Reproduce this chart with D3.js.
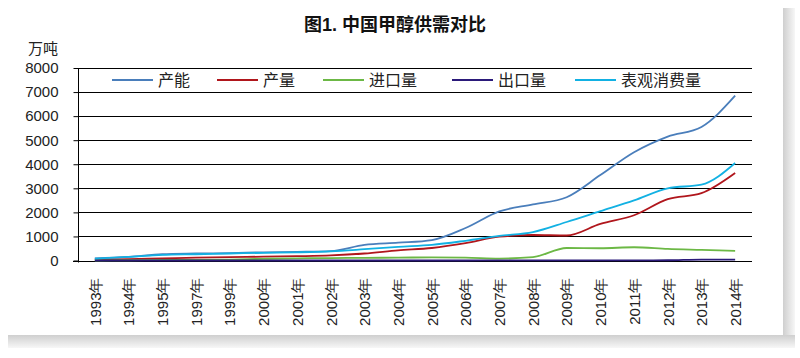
<!DOCTYPE html>
<html><head><meta charset="utf-8">
<script src="https://cdn.jsdelivr.net/npm/d3@7/dist/d3.min.js"></script>
<style>
html,body{margin:0;padding:0;background:#fff;}
svg{display:block;font-family:"Liberation Sans",Arial,"Noto Sans CJK SC",sans-serif;}
</style></head>
<body><svg id="c" width="800" height="358"></svg>
<script>
const years = ["1993年","1994年","1995年","1997年","1999年","2000年","2001年","2002年","2003年","2004年","2005年","2006年","2007年","2008年","2009年","2010年","2011年","2012年","2013年","2014年"];
const capacity    = [90, 150, 260, 290, 310, 340, 360, 390, 650, 740, 850, 1350, 2040, 2330, 2630, 3550, 4500, 5150, 5550, 6850];
const production  = [40, 60, 90, 120, 140, 160, 180, 210, 290, 420, 520, 720, 990, 1060, 1040, 1520, 1880, 2550, 2800, 3640];
const imports     = [0, 10, 20, 30, 40, 70, 90, 100, 110, 120, 130, 120, 80, 140, 520, 510, 550, 480, 440, 400];
const exports     = [0, 0, 0, 0, 0, 0, 0, 0, 0, 0, 0, 0, 5, 5, 5, 5, 5, 10, 40, 40];
const consumption = [80, 150, 230, 260, 290, 320, 340, 380, 470, 570, 650, 820, 1020, 1180, 1600, 2050, 2500, 3000, 3150, 4050];
const seriesNames = ["产能","产量","进口量","出口量","表观消费量"];
const seriesColors = ["#4a7ebb","#b0161c","#6cb845","#2b1a7a","#12b1e3"];
const yTicks = [0,1000,2000,3000,4000,5000,6000,7000,8000];
const title = "图1. 中国甲醇供需对比";
const unit = "万吨";

const seriesData = [capacity, production, imports, exports, consumption];
const svg = d3.select("#c");

// card shadow
const defs = svg.append("defs");
const gr = defs.append("linearGradient").attr("id","gr").attr("x1",0).attr("x2",1).attr("y1",0).attr("y2",0);
gr.append("stop").attr("offset","0").attr("stop-color","#cfcfcf");
gr.append("stop").attr("offset","1").attr("stop-color","#f7f7f7");
const gb = defs.append("linearGradient").attr("id","gb").attr("x1",0).attr("x2",0).attr("y1",0).attr("y2",1);
gb.append("stop").attr("offset","0").attr("stop-color","#cfcfcf");
gb.append("stop").attr("offset","1").attr("stop-color","#f7f7f7");
svg.append("rect").attr("x",783).attr("y",8).attr("width",12).attr("height",340).attr("fill","url(#gr)");
svg.append("rect").attr("x",8).attr("y",335).attr("width",787).attr("height",13).attr("fill","url(#gb)");
svg.append("rect").attr("x",0).attr("y",0).attr("width",783).attr("height",335).attr("fill","#fff");

const x = d3.scalePoint().domain(years).range([78,752]).padding(0.5);
const y = d3.scaleLinear().domain([0,8000]).range([260.5,68]);

// gridlines
svg.append("g").selectAll("line").data(yTicks.filter(d=>d>0)).join("line")
  .attr("x1",78).attr("x2",752).attr("y1",d=>Math.round(y(d))+0.5).attr("y2",d=>Math.round(y(d))+0.5)
  .attr("stroke","#000").attr("stroke-width",1);

// y axis
const yAxis = d3.axisLeft(y).tickValues(yTicks).tickSize(5).tickPadding(15).tickFormat(d3.format("d"));
const gy = svg.append("g").attr("transform","translate(78.5,0)").call(yAxis);
gy.select(".domain").attr("stroke","#000").attr("d","M0,"+y(8000)+"V"+(y(0)+2));
gy.selectAll(".tick line").attr("stroke","#000");
gy.selectAll("text").attr("font-size",15).attr("fill","#222");

// x axis
const xAxis = d3.axisBottom(x).tickSize(0).tickPadding(0);
const gx = svg.append("g").attr("transform","translate(0,"+(Math.round(y(0))+0.5)+")").call(xAxis);
gx.select(".domain").attr("stroke","#000").attr("d","M73,0H752");
gx.selectAll("text").attr("font-size",15).attr("fill","#222")
  .attr("transform","rotate(-90)").attr("text-anchor","end")
  .attr("x",-16).attr("y",0).attr("dy","0.35em");

// lines
const line = d3.line().x((d,i)=>x(years[i])).y(d=>y(d)).curve(d3.curveMonotoneX);
svg.append("g").selectAll("path").data(seriesData).join("path")
  .attr("d",d=>line(d)).attr("fill","none")
  .attr("stroke",(d,i)=>seriesColors[i]).attr("stroke-width",1.8).attr("stroke-linejoin","round");

// legend
const legX = [112,217,323,452,575];
const lg = svg.append("g").selectAll("g").data(seriesNames).join("g")
  .attr("transform",(d,i)=>"translate("+legX[i]+",80)");
lg.append("rect").attr("x",-2).attr("y",-10).attr("width",(d,i)=>44+d.length*16).attr("height",20).attr("fill","#fff");
lg.append("line").attr("x1",0).attr("x2",41).attr("y1",0).attr("y2",0)
  .attr("stroke",(d,i)=>seriesColors[i]).attr("stroke-width",2.2);
lg.append("text").attr("x",46).attr("y",0).attr("dy","0.36em").attr("font-size",16).attr("fill","#222").text(d=>d);

// title & unit
svg.append("text").attr("x",395).attr("y",31).attr("text-anchor","middle")
  .attr("font-size",18).attr("font-weight","bold").attr("fill","#111").text(title);
svg.append("text").attr("x",28).attr("y",54).attr("font-size",15).attr("fill","#222").text(unit);
</script></body></html>
